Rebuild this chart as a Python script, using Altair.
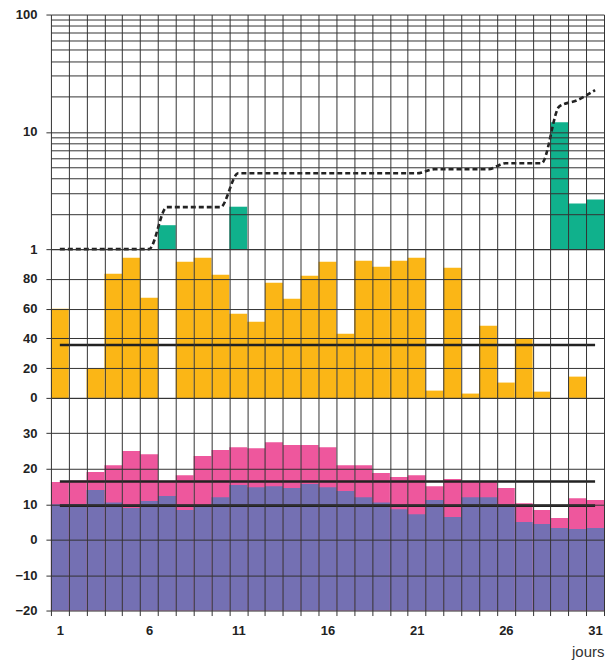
import altair as alt
import pandas as pd

# ---------------- data ----------------
days = list(range(1, 32))

# top panel (log scale): green bars and dashed cumulative line
green_days = [7, 11, 29, 30, 31]
green_vals = [1.6, 2.3, 12.1, 2.45, 2.65]
cumul_vals = [1.0, 1.0, 1.0, 1.0, 1.0, 1.0, 2.28, 2.28, 2.28, 2.28,
              4.43, 4.43, 4.43, 4.43, 4.43, 4.43, 4.43, 4.43, 4.43, 4.43,
              4.43, 4.8, 4.8, 4.8, 4.8, 5.4, 5.4, 5.4, 16.5, 18.6, 22.7]

# middle panel: orange bars
orange_vals = [60, 0, 20, 83.4, 94.2, 67.3, 0, 91.5, 94.2, 82.8,
               56.6, 51.2, 77.4, 66.6, 82.1, 91.5, 43.2, 92.2, 88.2, 92.2,
               94.2, 4.9, 87.5, 2.9, 48.5, 10.3, 39.8, 4.2, 0, 14.3, 0]
orange_mean = 35.6

# bottom panel: max (pink) and min (purple) temperatures
tmax = [16.3, 16.7, 19.1, 21.0, 25.0, 24.1, 16.6, 18.2, 23.6, 25.3,
        26.1, 25.8, 27.5, 26.7, 26.7, 26.1, 21.0, 21.0, 18.8, 17.7,
        18.2, 15.1, 17.1, 16.5, 16.5, 14.6, 10.3, 8.4, 6.1, 11.7, 11.2]
tmin = [10.0, 10.0, 14.0, 10.5, 8.9, 10.9, 12.3, 8.4, 9.8, 12.0,
        15.4, 14.8, 15.1, 14.6, 15.7, 14.8, 13.7, 12.0, 10.5, 8.6,
        7.2, 11.2, 6.4, 12.0, 12.0, 9.9, 5.0, 4.4, 3.3, 3.0, 3.3]
tmax_mean = 16.4
tmin_mean = 9.6

log_ticks = [1, 2, 3, 4, 5, 6, 7, 8, 9, 10, 20, 30, 40, 50, 60, 70, 80, 90, 100]
mid_ticks = [0, 20, 40, 60, 80, 100]
bot_ticks = [-20, -10, 0, 10, 20, 30, 40]
x_label_days = [1, 6, 11, 16, 21, 26, 31]

# ---------------- styles ----------------
W = 554
GRID = "#333333"
GREEN = "#10b18c"
ORANGE = "#fbb616"
PINK = "#ee579d"
PURPLE = "#7470b3"
LINE = "#222222"

xscale = alt.Scale(domain=days, paddingInner=0, paddingOuter=0)

x_plain = alt.X("day:O", scale=xscale, axis=alt.Axis(
    tickBand="extent", grid=True, gridColor=GRID, gridWidth=1,
    domain=False, labels=False, ticks=False, title=None, zindex=1))

label_test = " || ".join(f"datum.value == {d}" for d in x_label_days)
x_bottom = alt.X("day:O", scale=xscale, axis=alt.Axis(
    tickBand="extent", grid=True, gridColor=GRID, gridWidth=1,
    domain=False, ticks=True, tickSize=5, tickColor=GRID, labelAngle=0,
    labelPadding=9, labelExpr=f"({label_test}) ? datum.label : ''",
    title="jours", titleFont="Liberation Sans", titleFontWeight="normal",
    titleFontSize=15, titleColor="#333333", titleAnchor="end",
    titleAlign="right", titleBaseline="alphabetic", titleX=W, titleY=46,
    zindex=1))


def yaxis(values, test):
    return alt.Axis(values=values, grid=True, gridColor=GRID, gridWidth=1,
                    domain=False, ticks=True, tickSize=5, tickColor=GRID,
                    tickOpacity={"condition": {"test": test, "value": 1}, "value": 0},
                    labelPadding=9, labelExpr=f"({test}) ? datum.label : ''",
                    title=None, zindex=1)


# ---------------- top panel ----------------
top_test = "datum.value == 1 || datum.value == 10 || datum.value == 100"
y_top = alt.Y("v:Q", scale=alt.Scale(type="log", domain=[1, 100]),
              axis=yaxis(log_ticks, top_test))

green_df = pd.DataFrame({"day": green_days, "v": green_vals})
cumul_df = pd.DataFrame({"day": days, "v": cumul_vals})

top = alt.layer(
    alt.Chart(green_df).mark_bar(color=GREEN, strokeWidth=0).encode(
        x=x_plain, y=y_top, y2=alt.datum(1)),
    alt.Chart(cumul_df).mark_line(color=LINE, strokeWidth=2.6, strokeDash=[5, 3],
                                  interpolate="monotone").encode(x=x_plain, y=y_top),
).properties(width=W, height=235)

# ---------------- middle panel ----------------
mid_test = "datum.value < 100"
y_mid = alt.Y("v:Q", scale=alt.Scale(domain=[0, 100], nice=False),
              axis=yaxis(mid_ticks, mid_test))
orange_df = pd.DataFrame({"day": days, "v": orange_vals})
omean_df = pd.DataFrame({"day": [1, 31], "v": [orange_mean, orange_mean]})

mid = alt.layer(
    alt.Chart(orange_df).mark_bar(color=ORANGE, strokeWidth=0).encode(
        x=x_plain, y=y_mid, y2=alt.datum(0)),
    alt.Chart(omean_df).mark_line(color=LINE, strokeWidth=2.6).encode(x=x_plain, y=y_mid),
).properties(width=W, height=149)

# ---------------- bottom panel ----------------
bot_test = "datum.value < 40"
y_bot = alt.Y("v:Q", scale=alt.Scale(domain=[-20, 40], nice=False),
              axis=yaxis(bot_ticks, bot_test))
tmax_df = pd.DataFrame({"day": days, "v": tmax})
tmin_df = pd.DataFrame({"day": days, "v": tmin})
tmaxm_df = pd.DataFrame({"day": [1, 31], "v": [tmax_mean, tmax_mean]})
tminm_df = pd.DataFrame({"day": [1, 31], "v": [tmin_mean, tmin_mean]})

bot = alt.layer(
    alt.Chart(tmax_df).mark_bar(color=PINK, strokeWidth=0).encode(
        x=x_bottom, y=y_bot, y2=alt.datum(-20)),
    alt.Chart(tmin_df).mark_bar(color=PURPLE, strokeWidth=0).encode(
        x=x_bottom, y=y_bot, y2=alt.datum(-20)),
    alt.Chart(tmaxm_df).mark_line(color=LINE, strokeWidth=2.6).encode(x=x_bottom, y=y_bot),
    alt.Chart(tminm_df).mark_line(color=LINE, strokeWidth=2.6).encode(x=x_bottom, y=y_bot),
).properties(width=W, height=213)

chart = alt.vconcat(top, mid, bot, spacing=0, bounds="flush").properties(
    padding={"top": 0, "left": 6, "right": 0, "bottom": 0}
).configure_view(stroke=None).configure_axis(
    labelFont="Liberation Sans", labelFontWeight="bold", labelFontSize=13,
    labelColor="#222222"
)

chart.save("out.html", embed_options={"renderer": "svg", "actions": False})
